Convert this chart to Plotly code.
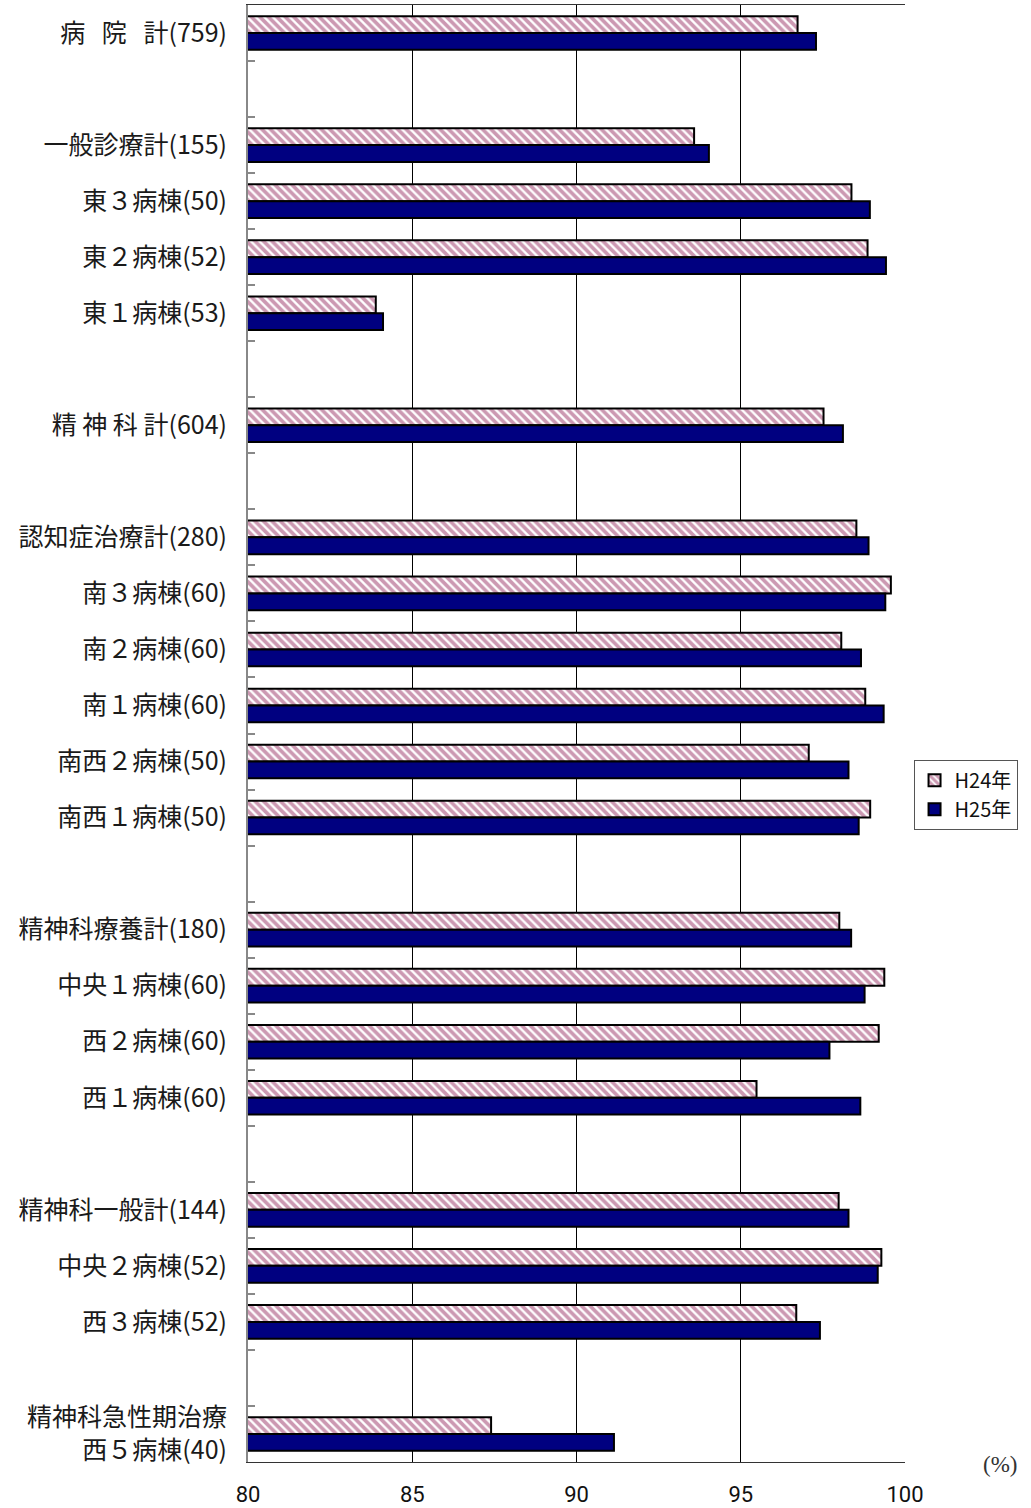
import plotly.graph_objects as go

categories = [
    "病\u2002\u2006院\u2002\u2006計(759)", " ",
    "一般診療計(155)", "東３病棟(50)", "東２病棟(52)", "東１病棟(53)", "  ",
    "精 神 科 計(604)", "   ",
    "認知症治療計(280)", "南３病棟(60)", "南２病棟(60)", "南１病棟(60)",
    "南西２病棟(50)", "南西１病棟(50)", "    ",
    "精神科療養計(180)", "中央１病棟(60)", "西２病棟(60)", "西１病棟(60)", "     ",
    "精神科一般計(144)", "中央２病棟(52)", "西３病棟(52)", "      ",
    "精神科急性期治療<br>西５病棟(40)",
]

h24 = [96.73, None,
       93.58, 98.37, 98.86, 83.89, None,
       97.52, None,
       98.52, 99.57, 98.06, 98.79, 97.07, 98.94, None,
       98.00, 99.37, 99.20, 95.48, None,
       97.98, 99.28, 96.69, None,
       87.40]

h25 = [97.29, None,
       94.03, 98.93, 99.42, 84.11, None,
       98.11, None,
       98.89, 99.40, 98.66, 99.35, 98.28, 98.59, None,
       98.36, 98.77, 97.70, 98.64, None,
       98.28, 99.17, 97.41, None,
       91.14]

x_ticks = [80, 85, 90, 95, 100]
series_names = ["H24年", "H25年"]

fig = go.Figure()
fig.add_trace(go.Bar(
    y=categories, x=h24, orientation="h", name=series_names[0],
    marker=dict(
        color="white",
        line=dict(color="black", width=2),
        pattern=dict(shape="\\", fgcolor="#993366", bgcolor="white", size=6, solidity=0.62),
    ),
))
fig.add_trace(go.Bar(
    y=categories, x=h25, orientation="h", name=series_names[1],
    marker=dict(color="#000080", line=dict(color="black", width=2)),
))

fig.update_layout(
    width=1031, height=1508,
    margin=dict(l=248, r=126, t=5, b=46, autoexpand=False),
    paper_bgcolor="white", plot_bgcolor="white",
    barmode="group", bargap=0.4, bargroupgap=0.0,
    font=dict(family="Noto Sans CJK JP, Noto Sans, sans-serif", color="#1a1a1a"),
    legend=dict(
        x=1.013, y=0.458, xanchor="left", yanchor="middle",
        bordercolor="#555555", borderwidth=1,
        font=dict(size=20, family="Noto Sans CJK JP, sans-serif", color="#111"),
        traceorder="normal", itemwidth=30, tracegroupgap=0,
    ),
    showlegend=True,
)

fig.update_xaxes(
    range=[80, 100], tickvals=x_ticks, ticktext=[str(v) for v in x_ticks],
    showgrid=True, gridcolor="black", gridwidth=1,
    showline=True, linecolor="#333333", linewidth=1, mirror=True,
    ticks="", tickfont=dict(size=22, family="Roboto, Noto Sans, sans-serif", color="#111"),
    ticklabelstandoff=13, automargin=False,
    zeroline=False, fixedrange=True,
)
fig.update_yaxes(
    type="category", categoryorder="array", categoryarray=categories,
    autorange="reversed", automargin=False,
    tickson="boundaries", ticks="inside", ticklen=7, tickcolor="#888888", tickwidth=2,
    showline=True, linecolor="#888888", linewidth=2,
    showgrid=False,
    tickfont=dict(size=25, family="Noto Sans CJK JP, sans-serif", color="#1a1a1a"),
    ticklabelstandoff=14,
)

fig.add_annotation(
    text="(%)", xref="paper", yref="paper", x=1.145, y=-0.002, xanchor="center", yanchor="middle",
    showarrow=False, font=dict(size=23, family="Liberation Serif, DejaVu Serif, serif", color="#333"),
)

fig.write_html(
    "out.html",
    config={"displayModeBar": False},
    post_script="document.body.style.margin='0';document.body.style.padding='0';",
)
